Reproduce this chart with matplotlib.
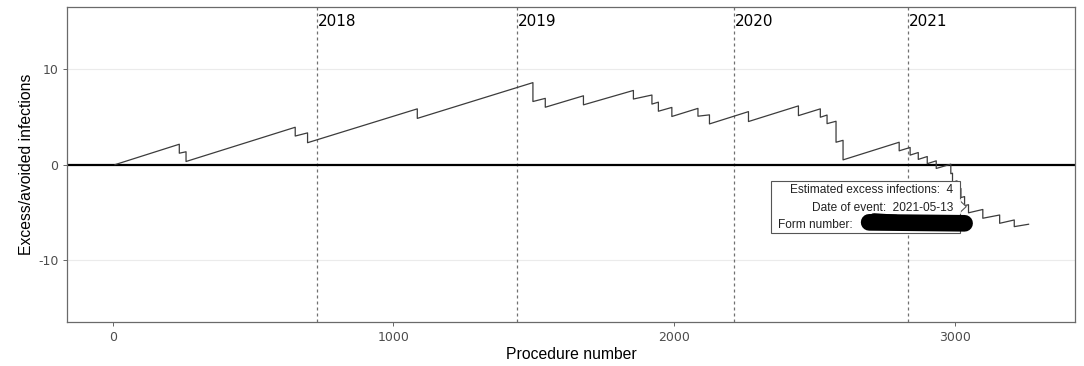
import matplotlib
matplotlib.use("Agg")
from matplotlib import pyplot as plt
from matplotlib.patches import Rectangle, Polygon

plt.rcParams["axes.unicode_minus"] = False

# cumulative excess/avoided infections, vertices of the step line
procedure = [8,
             237, 237, 261, 261,
             650, 650, 694, 694,
             1085, 1085, 1497, 1497,
             1541, 1541, 1677, 1677,
             1855, 1855, 1921, 1921,
             1944, 1944, 1992, 1992,
             2085, 2085, 2126, 2126,
             2265, 2265, 2443, 2443,
             2521, 2521, 2545, 2545,
             2577, 2577, 2602, 2602,
             2802, 2802, 2841, 2841,
             2870, 2870, 2902, 2902,
             2934, 2934, 2986, 2986,
             2992, 2992, 3008, 3008,
             3022, 3022, 3035, 3035,
             3049, 3049, 3100, 3100,
             3160, 3160, 3212, 3212,
             3263]
excess = [0.0,
          2.14, 1.2, 1.35, 0.33,
          3.92, 3.0, 3.33, 2.3,
          5.85, 4.85, 8.6, 6.62,
          6.95, 6.02, 7.22, 6.27,
          7.78, 6.88, 7.3, 6.35,
          6.55, 5.6, 6.0, 5.05,
          5.9, 5.08, 5.22, 4.27,
          5.56, 4.52, 6.16, 5.14,
          5.85, 4.97, 5.2, 4.3,
          4.55, 2.35, 2.55, 0.5,
          2.35, 1.45, 1.8, 1.0,
          1.27, 0.55, 0.85, 0.1,
          0.4, -0.4, 0.05, -0.95,
          -0.9, -1.85, -1.7, -2.6,
          -2.5, -3.45, -3.35, -4.3,
          -4.2, -5.05, -4.7, -5.62,
          -5.28, -6.15, -5.8, -6.5,
          -6.25]

# first procedure of each year
year_start = [727, 1440, 2212, 2833]
year_labels = ["2018", "2019", "2020", "2021"]

# hover label
hover_point = (3041, -4.4)
hover_lines = ["Estimated excess infections:  4", "Date of event:  2021-05-13"]
hover_form = "Form number: "

fig = plt.figure(figsize=(10.84, 3.66), dpi=100)
ax = fig.add_axes([0.0621, 0.1202, 0.9300, 0.8599])

ax.set_xlim(-162, 3430)
ax.set_ylim(-16.5, 16.5)

for y in [-10, 10]:
    ax.axhline(y, color="#ebebeb", lw=0.8, zorder=0)

ax.axhline(0, color="black", lw=1.6, zorder=2)

for xs, lab in zip(year_start, year_labels):
    ax.axvline(xs, color="#707070", lw=0.9, ls=(0, (2.4, 2.4)), zorder=1)
    ax.text(xs + 3, 15.0, lab, fontsize=11, color="black", ha="left", va="center",
            family="DejaVu Sans")

ax.plot(procedure, excess, color="#3c3c3c", lw=0.9, zorder=3)

ax.set_xticks([0, 1000, 2000, 3000])
ax.set_yticks([-10, 0, 10])
ax.tick_params(colors="#4d4d4d", labelsize=9, length=3, width=0.6)
for lab in ax.get_xticklabels() + ax.get_yticklabels():
    lab.set_family("DejaVu Sans")
ax.set_xlabel("Procedure number", fontsize=11.3, family="Liberation Sans", labelpad=2)
ax.set_ylabel("Excess/avoided infections", fontsize=11.3, family="Liberation Sans", labelpad=3)

for s in ax.spines.values():
    s.set_color("#6a6a6a")
    s.set_linewidth(0.9)

# hover label box with pointer
hx, hy = hover_point
ax.add_patch(Rectangle((2346, -7.2), 3019 - 2346, 5.49, facecolor="white",
                       edgecolor="#555555", lw=0.8, zorder=5))
ax.add_patch(Polygon([(3019, -3.8), (hx, hy), (3019, -5.0)], closed=False,
                     facecolor="white", edgecolor="#555555", lw=0.8, zorder=5))
ax.plot([3019, 3019], [-3.75, -5.05], color="white", lw=1.2, zorder=5)
ax.text(2995, -2.65, hover_lines[0], fontsize=8.6, family="Liberation Sans",
        ha="right", va="center", color="#222222", zorder=6)
ax.text(2995, -4.54, hover_lines[1], fontsize=8.6, family="Liberation Sans",
        ha="right", va="center", color="#222222", zorder=6)
ax.text(2371, -6.33, hover_form, fontsize=8.6, family="Liberation Sans",
        ha="left", va="center", color="#222222", zorder=6)

# redacted form number
ax.plot([2695, 3035], [-6.05, -6.15], color="black", lw=12, solid_capstyle="round", zorder=7)
ax.plot([2712, 2790], [-5.6, -5.75], color="black", lw=7, solid_capstyle="round", zorder=7)

fig.savefig("out.png", dpi=100)
